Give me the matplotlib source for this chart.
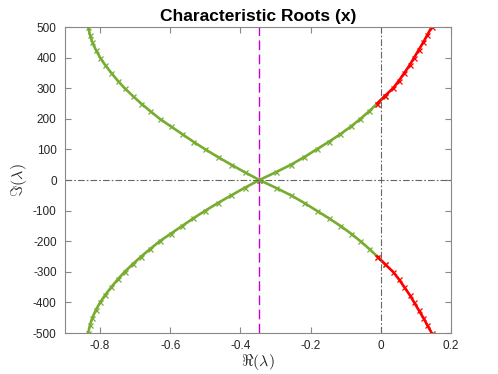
import numpy as np
import matplotlib
matplotlib.use("Agg")
import matplotlib.pyplot as plt

# imaginary part (upper half); lower half is the mirror image
imag_vals = [0, 25, 50, 75, 100, 125, 150, 175, 200, 225, 250,
             275, 300, 325, 350, 375, 400, 425, 450, 475, 500]
# real part of the branch running to the left
real_left = [-0.346, -0.387, -0.426, -0.464, -0.500, -0.534, -0.566,
             -0.598, -0.630, -0.657, -0.683, -0.707, -0.730, -0.750,
             -0.768, -0.785, -0.800, -0.812, -0.822, -0.829, -0.834]
# real part of the branch running to the right (crosses Re=0)
real_right = [-0.346, -0.300, -0.256, -0.218, -0.183, -0.148, -0.115,
              -0.085, -0.058, -0.033, -0.010, 0.012, 0.035, 0.052,
              0.067, 0.082, 0.095, 0.108, 0.121, 0.133, 0.145]

xticks = [-0.8, -0.6, -0.4, -0.2, 0, 0.2]
yticks = [-500, -400, -300, -200, -100, 0, 100, 200, 300, 400, 500]

GREEN = "#77AC30"
RED = "#FF0000"

plt.rcParams['font.family'] = ['Liberation Sans', 'DejaVu Sans']
plt.rcParams['axes.unicode_minus'] = False
plt.rcParams['mathtext.fontset'] = 'cm'
plt.rcParams['lines.scale_dashes'] = False

STYLE = dict(lw=1.9, marker='x', ms=3.6, mew=0.9)


def draw_branch(ax, re, im):
    re = np.asarray(re)
    im = np.asarray(im)
    k = int(np.argmax(re > 0))  # first index with positive real part
    for sign in (1, -1):
        ax.plot(re[:k + 1], sign * im[:k + 1], color=GREEN, **STYLE)
        ax.plot(re[k - 1:], sign * im[k - 1:], color=RED, **STYLE)


def main():
    fig = plt.figure(figsize=(4.98, 3.74), dpi=100)
    ax = fig.add_axes([0.1305, 0.1096, 0.7751, 0.8182])

    im = np.asarray(imag_vals)
    # left branch never crosses Re=0, so all green
    for sign in (1, -1):
        ax.plot(real_left, sign * im, color=GREEN, **STYLE)
    draw_branch(ax, real_right, imag_vals)

    ax.axhline(0, color='#666666', lw=0.8, ls=(0, (4.8, 1.5, 1.2, 1.5)))
    ax.axvline(0, color='#666666', lw=0.8, ls=(0, (4.8, 1.5, 1.2, 1.5)))
    ax.axvline(real_left[0], color='#CC00CC', lw=1.0, ls=(0, (7, 3.2)))

    ax.set_xlim(-0.9, 0.2)
    ax.set_ylim(-500, 500)
    ax.set_xticks(xticks)
    ax.set_xticklabels(['-0.8', '-0.6', '-0.4', '-0.2', '0', '0.2'])
    ax.set_yticks(yticks)
    ax.tick_params(direction='in', length=4, width=0.8, colors='#888888',
                   labelcolor='#262626', labelsize=8.5, top=True, right=True)
    ax.tick_params(axis='y', pad=6)
    ax.tick_params(axis='x', pad=5)
    for s in ax.spines.values():
        s.set_color('#888888')
        s.set_linewidth(0.8)

    ax.set_title('Characteristic Roots (x)', fontsize=12.5, fontweight='bold',
                 pad=4)
    ax.set_xlabel(r'$\Re(\lambda)$', fontsize=11.5, labelpad=0, color='#262626')
    ax.set_ylabel(r'$\Im(\lambda)$', fontsize=11.5, labelpad=3, color='#262626')

    fig.savefig('out.png', dpi=100)


if __name__ == "__main__":
    main()
